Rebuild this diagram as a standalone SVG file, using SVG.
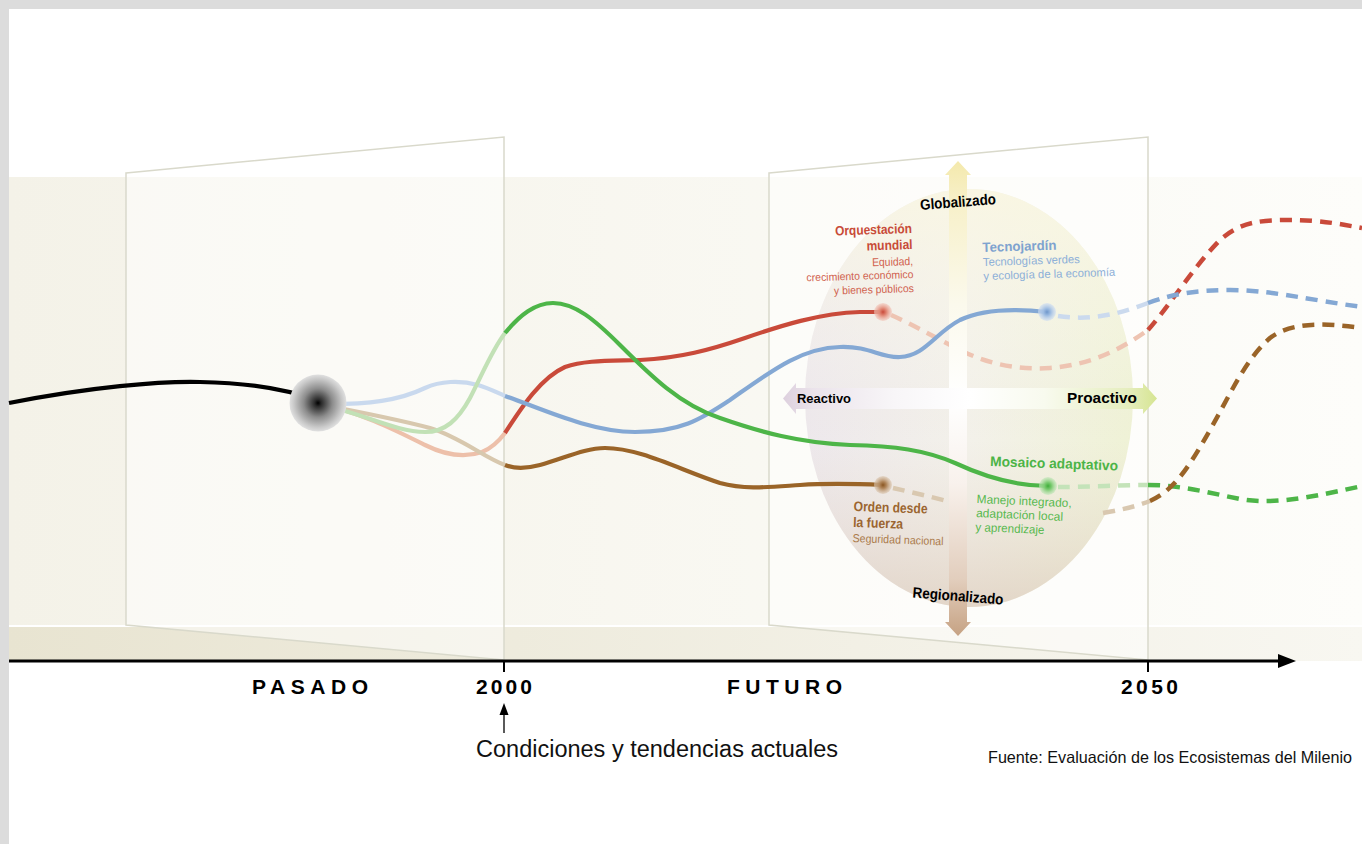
<svg xmlns="http://www.w3.org/2000/svg" width="1362" height="844" viewBox="0 0 1362 844">
<defs>
<linearGradient id="bandTop" x1="0" y1="0" x2="1" y2="0"><stop offset="0" stop-color="#f4f2e8"/><stop offset="1" stop-color="#fdfdfa"/></linearGradient>
<linearGradient id="bandBot" x1="0" y1="0" x2="1" y2="0"><stop offset="0" stop-color="#e8e4d1"/><stop offset="1" stop-color="#f8f7f1"/></linearGradient>
<linearGradient id="ellH" x1="0" y1="0" x2="1" y2="0"><stop offset="0" stop-color="#ede8ec"/><stop offset="0.5" stop-color="#f3f1ea"/><stop offset="1" stop-color="#eff2d6"/></linearGradient>
<linearGradient id="ellV" x1="0" y1="0" x2="0" y2="1"><stop offset="0" stop-color="#faf7e2" stop-opacity="0.85"/><stop offset="0.45" stop-color="#f8f6ec" stop-opacity="0.15"/><stop offset="0.6" stop-color="#e8dccf" stop-opacity="0"/><stop offset="1" stop-color="#dccbbb" stop-opacity="0.7"/></linearGradient>
<linearGradient id="arrV" gradientUnits="userSpaceOnUse" x1="0" y1="161" x2="0" y2="636"><stop offset="0" stop-color="#f4e9ac"/><stop offset="0.08" stop-color="#f7f0c8"/><stop offset="0.3" stop-color="#fbf9ec"/><stop offset="0.5" stop-color="#ffffff"/><stop offset="0.68" stop-color="#f8f1ec"/><stop offset="0.88" stop-color="#e2cebd"/><stop offset="1" stop-color="#c6a283"/></linearGradient>
<linearGradient id="arrH" gradientUnits="userSpaceOnUse" x1="783" y1="0" x2="1157" y2="0"><stop offset="0" stop-color="#ddd0de"/><stop offset="0.08" stop-color="#ebe3eb"/><stop offset="0.3" stop-color="#f8f6f8"/><stop offset="0.5" stop-color="#ffffff"/><stop offset="0.7" stop-color="#f8faee"/><stop offset="0.92" stop-color="#e6eebf"/><stop offset="1" stop-color="#d6e592"/></linearGradient>
<radialGradient id="sphereG"><stop offset="0" stop-color="#000"/><stop offset="0.12" stop-color="#2a2a2a"/><stop offset="0.5" stop-color="#8c8c8c"/><stop offset="0.85" stop-color="#c9c9c9"/><stop offset="1" stop-color="#e0e0e0"/></radialGradient>
<radialGradient id="dotR"><stop offset="0" stop-color="#c94a3a"/><stop offset="0.4" stop-color="#e28a78"/><stop offset="1" stop-color="#f2c8bc" stop-opacity="0.6"/></radialGradient>
<radialGradient id="dotB"><stop offset="0" stop-color="#6f97cb"/><stop offset="0.4" stop-color="#9fbde2"/><stop offset="1" stop-color="#d0def2" stop-opacity="0.6"/></radialGradient>
<radialGradient id="dotG"><stop offset="0" stop-color="#3fae3a"/><stop offset="0.4" stop-color="#7ccb72"/><stop offset="1" stop-color="#c4e6bb" stop-opacity="0.6"/></radialGradient>
<radialGradient id="dotN"><stop offset="0" stop-color="#8a5622"/><stop offset="0.4" stop-color="#b38a60"/><stop offset="1" stop-color="#dcc8b2" stop-opacity="0.6"/></radialGradient>
<clipPath id="stripeCut"><rect x="0" y="0" width="949" height="844"/><rect x="967" y="0" width="400" height="844"/></clipPath>
<style>
.pan{fill:#ffffff;fill-opacity:0.5;stroke:#d9d9cb;stroke-width:1.5}
.c{fill:none;stroke-width:4.2;stroke-linecap:butt}
.d{fill:none;stroke-width:4.5;stroke-dasharray:12 8}
.lb{font-family:"Liberation Sans",Arial,sans-serif;font-weight:bold}
.lr{font-family:"Liberation Sans",Arial,sans-serif}
.ax{font-family:"Liberation Sans",Arial,sans-serif;font-weight:bold;font-size:21px;fill:#000}
</style>
</defs>
<g id="background">
<rect x="0" y="0" width="1362" height="844" fill="#ffffff"/>
<rect x="0" y="0" width="1362" height="9" fill="#dcdcdc"/>
<rect x="0" y="0" width="9" height="844" fill="#dcdcdc"/>
<rect x="9" y="177" width="1353" height="448" fill="url(#bandTop)"/>
<rect x="9" y="627" width="1353" height="34" fill="url(#bandBot)"/>
</g>
<g id="panels">
<polygon class="pan" points="126,173 504,137 504,660 126,625"/>
<polygon class="pan" points="769,173 1148,137 1148,660 769,625"/>
</g>
<g id="quadrant">
<ellipse cx="969" cy="398" rx="164" ry="209" fill="url(#ellH)"/>
<ellipse cx="969" cy="398" rx="164" ry="209" fill="url(#ellV)"/>
<polygon id="axis-vertical" points="958,161 971,175 967,175 967,622 971,622 958,636 945,622 949,622 949,175 945,175" fill="url(#arrV)"/>
<polygon id="axis-horizontal" points="783,398.5 796,383 796,388 1143,388 1143,383 1157,398.5 1143,414 1143,409 796,409 796,414" fill="url(#arrH)"/>
</g>
<g id="connectors">
<path class="c" stroke="#000" d="M9,403 C90,387 160,381 200,382 C250,383 290,390 318,401"/>
<path class="c" stroke="#c9d9ee" d="M318,404 C370,405 400,400 425,388 C440,381 460,380 478,385 C488,388 496,392 505,396"/>
<path class="c" stroke="#edc0aa" d="M318,404 C360,412 395,430 425,445 C445,455 465,458 482,452 C492,448 499,441 505,433"/>
<path class="c" stroke="#d8c8ae" d="M318,404 C360,412 400,420 430,428 C460,437 485,458 505,465"/>
<path class="c" stroke="#c2e1b6" d="M318,404 C360,412 395,432 425,432 C445,432 458,420 470,398 C482,375 492,350 505,333"/>
<path class="d" stroke="#eec4b2" clip-path="url(#stripeCut)" d="M891,315 C912,324 932,336 960,350 C990,365 1020,370 1050,368 C1090,365 1120,350 1148,330"/>
<path class="d" stroke="#c94a3a" d="M1148,330 C1170,305 1195,265 1220,240 C1240,222 1260,220 1290,220 C1320,220 1340,224 1362,228"/>
<path class="d" stroke="#cbdaee" d="M1058,316 C1085,320 1112,317 1148,303"/>
<path class="d" stroke="#84a8d4" d="M1148,303 C1175,293 1200,290 1230,290 C1270,290 1310,300 1362,307"/>
<path class="d" stroke="#c4e3b9" d="M1058,487 C1085,487 1120,485 1148,485"/>
<path class="d" stroke="#4db548" d="M1148,485 C1180,485 1210,493 1240,499 C1270,504 1300,500 1362,486"/>
<path class="d" stroke="#d9c8b0" d="M893,488 C910,492 928,496 947,501"/>
<path class="d" stroke="#d9c8b0" d="M1103,513 C1120,510 1135,507 1150,501"/>
<path class="d" stroke="#9a6428" d="M1150,501 C1175,490 1190,465 1210,430 C1230,395 1245,360 1270,338 C1290,323 1320,322 1362,328"/>
<path class="c" stroke="#9a6428" d="M505,465 C515,469 525,469 540,465 C565,458 585,448 605,448 C640,448 680,470 720,483 C745,490 770,487 800,485 C830,483 860,484 883,485"/>
<path class="c" stroke="#c94a3a" d="M505,433 C520,410 540,378 565,367 C585,360 610,361 640,360 C680,358 710,350 745,338 C780,326 820,313 860,312 C870,312 876,312 883,312"/>
<path class="c" stroke="#84a8d4" d="M505,396 C540,408 590,432 635,432 C680,432 700,420 730,400 C770,372 800,348 840,347 C870,346 880,358 900,357 C925,356 935,333 960,320 C985,308 1020,309 1047,312"/>
<path class="c" stroke="#4db548" d="M505,333 C520,315 535,303 553,303 C575,303 595,320 620,345 C650,375 680,405 720,418 C760,432 800,443 850,445 C895,446 925,450 955,463 C985,477 1015,486 1048,486"/>
</g>
<g id="sphere">
<circle cx="318" cy="403" r="28.5" fill="url(#sphereG)"/>
</g>
<g id="node-orquestacion">
<circle cx="883" cy="312" r="9" fill="url(#dotR)"/>
<g transform="rotate(-1.8 913 260)" text-anchor="end">
<text class="lb" x="913" y="233" font-size="13.5" fill="#c84b38" textLength="77" lengthAdjust="spacingAndGlyphs">Orquestación</text>
<text class="lb" x="913" y="249" font-size="13.5" fill="#c84b38" textLength="46" lengthAdjust="spacingAndGlyphs">mundial</text>
<text class="lr" x="913" y="265" font-size="11.5" fill="#d0604d" textLength="41" lengthAdjust="spacingAndGlyphs">Equidad,</text>
<text class="lr" x="913" y="278" font-size="11" fill="#d0604d" textLength="107" lengthAdjust="spacingAndGlyphs">crecimiento económico</text>
<text class="lr" x="913" y="292" font-size="11" fill="#d0604d" textLength="80" lengthAdjust="spacingAndGlyphs">y bienes públicos</text>
</g>
</g>
<g id="node-tecnojardin">
<circle cx="1047" cy="312" r="9" fill="url(#dotB)"/>
<g transform="rotate(-1.8 983 265)">
<text class="lb" x="983" y="252" font-size="13.5" fill="#7ea3cf" textLength="74" lengthAdjust="spacingAndGlyphs">Tecnojardín</text>
<text class="lr" x="983" y="266" font-size="11.5" fill="#8cafd8" textLength="97" lengthAdjust="spacingAndGlyphs">Tecnologías verdes</text>
<text class="lr" x="983" y="280" font-size="11.5" fill="#8cafd8" textLength="132" lengthAdjust="spacingAndGlyphs">y ecología de la economía</text>
</g>
</g>
<g id="node-mosaico">
<circle cx="1048" cy="486" r="9" fill="url(#dotG)"/>
<g transform="rotate(2 990 465)">
<text class="lb" x="990" y="466" font-size="14" fill="#4cb447" textLength="128" lengthAdjust="spacingAndGlyphs">Mosaico adaptativo</text>
</g>
<g transform="rotate(2.5 976 515)">
<text class="lr" x="976" y="503" font-size="12" fill="#58b950" textLength="95" lengthAdjust="spacingAndGlyphs">Manejo integrado,</text>
<text class="lr" x="976" y="517" font-size="12" fill="#58b950" textLength="87" lengthAdjust="spacingAndGlyphs">adaptación local</text>
<text class="lr" x="976" y="531" font-size="12" fill="#58b950" textLength="69" lengthAdjust="spacingAndGlyphs">y aprendizaje</text>
</g>
</g>
<g id="node-orden">
<circle cx="883" cy="485" r="9" fill="url(#dotN)"/>
<g transform="rotate(2 853 525)">
<text class="lb" x="853" y="511" font-size="14" fill="#9b6530" textLength="74" lengthAdjust="spacingAndGlyphs">Orden desde</text>
<text class="lb" x="853" y="527" font-size="14" fill="#9b6530" textLength="50" lengthAdjust="spacingAndGlyphs">la fuerza</text>
<text class="lr" x="853" y="542" font-size="11.5" fill="#ab7b4c" textLength="91" lengthAdjust="spacingAndGlyphs">Seguridad nacional</text>
</g>
</g>
<g id="axis-labels">
<text class="lb" x="958" y="207" font-size="15" fill="#000" text-anchor="middle" transform="rotate(-4.5 958 202)" textLength="76" lengthAdjust="spacingAndGlyphs">Globalizado</text>
<text class="lb" x="958" y="601" font-size="15" fill="#000" text-anchor="middle" transform="rotate(4.5 958 597)" textLength="91" lengthAdjust="spacingAndGlyphs">Regionalizado</text>
<text class="lb" x="797" y="403" font-size="13.5" fill="#000" textLength="54" lengthAdjust="spacingAndGlyphs">Reactivo</text>
<text class="lb" x="1067" y="403" font-size="15" fill="#000" textLength="70" lengthAdjust="spacingAndGlyphs">Proactivo</text>
</g>
<g id="timeline">
<line x1="9" y1="661" x2="1282" y2="661" stroke="#000" stroke-width="3"/>
<polygon points="1278,654 1296,661 1278,668" fill="#000"/>
<line x1="504" y1="660" x2="504" y2="672" stroke="#000" stroke-width="2"/>
<line x1="1148" y1="660" x2="1148" y2="672" stroke="#000" stroke-width="2"/>
<text class="ax" x="252" y="694" textLength="116" lengthAdjust="spacing">PASADO</text>
<text class="ax" x="476" y="694" textLength="56" lengthAdjust="spacing">2000</text>
<text class="ax" x="727" y="694" textLength="115" lengthAdjust="spacing">FUTURO</text>
<text class="ax" x="1121" y="694" textLength="57" lengthAdjust="spacing">2050</text>
</g>
<g id="note-current">
<line x1="504" y1="733" x2="504" y2="712" stroke="#000" stroke-width="1.3"/>
<polygon points="504,703 508.5,715 499.5,715" fill="#000"/>
<text class="lr" x="476" y="757" font-size="23" fill="#111" textLength="362" lengthAdjust="spacingAndGlyphs">Condiciones y tendencias actuales</text>
</g>
<g id="source">
<text class="lr" x="988" y="763" font-size="16.5" fill="#111" textLength="364" lengthAdjust="spacingAndGlyphs">Fuente: Evaluación de los Ecosistemas del Milenio</text>
</g>
</svg>
